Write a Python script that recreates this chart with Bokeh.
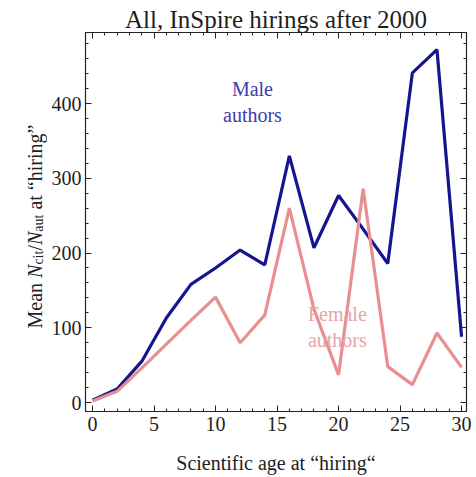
import math
from bokeh.plotting import figure
from bokeh.layouts import row
from bokeh.models import (Range1d, LinearAxis, SingleIntervalTicker, Label,
                          CustomLabelingPolicy)
from bokeh.embed import file_html
from bokeh.resources import INLINE

# ---- data ----
ages = [0, 2, 4, 6, 8, 10, 12, 14, 16, 18, 20, 22, 24, 26, 28, 30]
male = [3, 18, 55, 113, 158, 180, 204, 184, 330, 207, 277, 232, 186, 441, 472, 88]
female = [2, 15, 46, 78, 110, 141, 80, 117, 260, 125, 37, 286, 48, 24, 93, 47]

title_text = "All, InSpire hirings after 2000"
x_label = "Scientific age at \u201chiring\u201c"
series_labels = ["Male", "authors", "Female", "authors"]

FONT = "Liberation Serif"
TXT = "#1e1e1e"
MALE_C = "#15158f"
FEMALE_C = "#e98f8f"

LEFT_W = 47   # width of the strip that holds the rotated y-axis title
W, H = 476, 477

p = figure(width=W - LEFT_W, height=H, output_backend="svg", toolbar_location=None,
           x_range=Range1d(-0.57, 30.4), y_range=Range1d(-12, 495),
           min_border_left=85 - LEFT_W, min_border_right=10, min_border_top=32,
           min_border_bottom=66, x_axis_type=None, y_axis_type=None)
p.background_fill_color = "white"
p.border_fill_color = "white"
p.outline_line_color = "#222222"
p.outline_line_width = 1.2
p.xgrid.visible = False
p.ygrid.visible = False

p.title.text = title_text
p.title.text_font = FONT
p.title.text_font_size = "25px"
p.title.text_font_style = "normal"
p.title.text_color = TXT
p.title.align = "center"
p.title.standoff = 0
p.title.offset = 0

no_labels = CustomLabelingPolicy(code="""
const n = indices.size
for (let i = 0; i < n; i++) { indices.unset(i) }
return indices
""")

def make_axis(kind, show_labels):
    if kind == "x":
        t = SingleIntervalTicker(interval=5, num_minor_ticks=5)
    else:
        t = SingleIntervalTicker(interval=100, num_minor_ticks=5)
    ax = LinearAxis(ticker=t)
    ax.axis_line_color = "#222222"
    ax.major_tick_line_color = "#222222"
    ax.minor_tick_line_color = "#222222"
    ax.major_tick_in = 6
    ax.major_tick_out = 0
    ax.minor_tick_in = 3
    ax.minor_tick_out = 0
    ax.major_label_text_font = FONT
    ax.major_label_text_color = TXT
    if show_labels:
        ax.major_label_text_font_size = "20px"
    else:
        ax.major_label_text_font_size = "0px"
        ax.major_label_policy = no_labels
        ax.major_label_standoff = 0
    return ax

xb = make_axis("x", True)
xb.major_label_standoff = 5
xb.axis_label = x_label
xb.axis_label_text_font = FONT
xb.axis_label_text_font_size = "20px"
xb.axis_label_text_font_style = "normal"
xb.axis_label_text_color = TXT
xb.axis_label_standoff = 18
p.add_layout(xb, "below")

yl = make_axis("y", True)
yl.major_label_standoff = 4
p.add_layout(yl, "left")

p.add_layout(make_axis("x", False), "above")
p.add_layout(make_axis("y", False), "right")

p.line(ages, male, line_color=MALE_C, line_width=3.2)
p.line(ages, female, line_color=FEMALE_C, line_width=3.2)

# series labels
for txt, xx, yy, col in [(series_labels[0], 13.0, 419, "#3d3daa"),
                         (series_labels[1], 13.0, 384, "#3d3daa"),
                         (series_labels[2], 19.9, 119, "#e8a3aa"),
                         (series_labels[3], 19.9, 83, "#e8a3aa")]:
    p.add_layout(Label(x=xx, y=yy, text=txt, text_font=FONT, text_font_size="20px",
                       text_color=col, text_align="center", text_baseline="middle"))

# ---- strip with the rotated y-axis title (pieces for italics / subscripts) ----
lab = figure(width=LEFT_W, height=H, output_backend="svg", toolbar_location=None,
             x_range=Range1d(0, 1), y_range=Range1d(0, 1),
             min_border_left=0, min_border_right=0, min_border_top=0,
             min_border_bottom=0, x_axis_type=None, y_axis_type=None)
lab.title = None
lab.outline_line_color = None
lab.xgrid.visible = False
lab.ygrid.visible = False
lab.background_fill_color = "white"
lab.border_fill_color = "white"

pieces = [("Mean", 20, "normal", 0, 2.527),
          ("N", 20, "italic", 0, 0.667),
          ("cit", 14, "normal", 4, 1.0),
          ("/", 20, "normal", 0, 0.278),
          ("N", 20, "italic", 0, 0.667),
          ("aut", 14, "normal", 4, 1.222 + 0.25 * 20 / 14),
          ("at \u201chiring\u201d", 20, "normal", 0, 4.249)]
base_x = 34
ypos = 410 - 327   # screen units are measured from the (row-aligned) frame bottom
for txt, fs, style, dx, wem in pieces:
    lab.add_layout(Label(x=base_x + dx, y=ypos, x_units="screen", y_units="screen",
                         text=txt, angle=math.pi / 2, text_font=FONT,
                         text_font_size=f"{fs}px", text_font_style=style,
                         text_color=TXT, text_align="left",
                         text_baseline="alphabetic"))
    ypos += wem * fs

layout = row(lab, p, spacing=0)
open("out.html", "w").write(file_html(layout, INLINE))
